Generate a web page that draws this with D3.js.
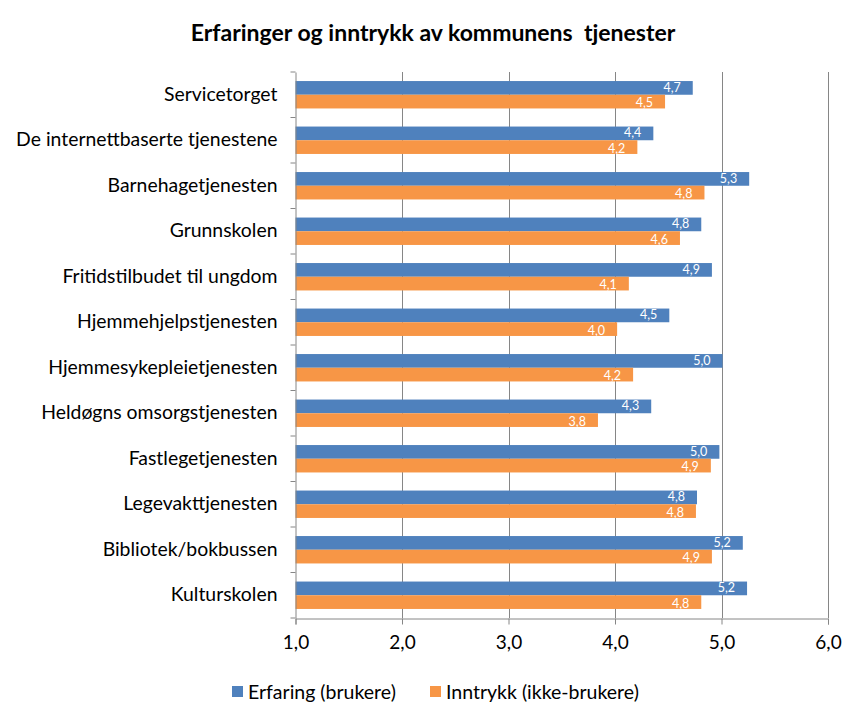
<!DOCTYPE html>
<html><head><meta charset="utf-8">
<script src="https://cdn.jsdelivr.net/npm/d3@7"></script>
<style>body{margin:0;background:#fff}svg{display:block}text{font-family:Lato,"Open Sans",sans-serif}</style>
</head><body><svg id="c" width="865" height="721"></svg>
<script>
const categories = ["Servicetorget","De internettbaserte tjenestene","Barnehagetjenesten","Grunnskolen","Fritidstilbudet til ungdom","Hjemmehjelpstjenesten","Hjemmesykepleietjenesten","Heldøgns omsorgstjenesten","Fastlegetjenesten","Legevakttjenesten","Bibliotek/bokbussen","Kulturskolen"];
const erfaring = [4.73,4.36,5.26,4.81,4.91,4.51,5.01,4.34,4.98,4.77,5.20,5.24];
const inntrykk = [4.47,4.21,4.84,4.61,4.13,4.02,4.17,3.84,4.90,4.76,4.91,4.81];
const seriesNames = ["Erfaring (brukere)","Inntrykk (ikke-brukere)"];
const xTicks = [1,2,3,4,5,6];
const colors = ["#4F81BD","#F79646"];
const title = "Erfaringer og inntrykk av kommunens  tjenester";

const svg = d3.select("#c");
const L = 295.5, R = 828, T = 72, B = 618;
const x = d3.scaleLinear().domain([1,6]).range([L,R]);
const y = d3.scaleBand().domain(categories).range([T,B]);
const inner = d3.scaleBand().domain([0,1]).range([0,y.bandwidth()]).paddingInner(0).paddingOuter(0.66);
const fmt = v => d3.format(".1f")(v).replace(".",",");

svg.append("text").attr("x",433).attr("y",41).attr("text-anchor","middle")
  .style("font-size","23px").style("font-weight","bold").style("white-space","pre")
  .attr("fill","#000").text(title);

// gridlines
svg.append("g").selectAll("line").data(xTicks.slice(1)).join("line")
  .attr("x1",d=>Math.round(x(d))+0.5).attr("x2",d=>Math.round(x(d))+0.5)
  .attr("y1",T).attr("y2",B).attr("stroke","#868686").attr("stroke-width",1);

const data = [];
categories.forEach((c,i)=>{ [erfaring[i],inntrykk[i]].forEach((v,s)=>data.push({c,v,s})); });

svg.append("g").selectAll("rect").data(data).join("rect")
  .attr("x",L).attr("y",d=>y(d.c)+inner(d.s)).attr("height",inner.bandwidth())
  .attr("width",d=>x(d.v)-L).attr("fill",d=>colors[d.s]);

svg.append("g").selectAll("text").data(data).join("text")
  .attr("x",d=>x(d.v)-12).attr("y",d=>y(d.c)+inner(d.s)+inner.bandwidth()/2+(d.s===0?-1:1))
  .attr("dy","0.38em").attr("text-anchor","end").attr("fill","#fff")
  .style("font-size","12.5px").text(d=>fmt(d.v));

// x axis
const xa = svg.append("g").attr("transform",`translate(0,${B+0.5})`)
  .call(d3.axisBottom(x).tickValues(xTicks).tickSize(6).tickFormat(fmt));
xa.select(".domain").attr("stroke","#868686");
xa.selectAll(".tick line").attr("stroke","#868686");
xa.selectAll(".tick text").attr("fill","#000").style("font-size","19px").style("font-family","Lato").attr("dy","1.15em");

// y axis
const ya = svg.append("g").attr("transform",`translate(${L},0)`)
  .call(d3.axisLeft(y).tickSize(0).tickPadding(18));
ya.select(".domain").attr("stroke","#868686");
ya.selectAll(".tick text").attr("fill","#000").style("font-size","19.4px").style("font-family","Lato");
svg.append("g").selectAll("line").data(d3.range(categories.length+1)).join("line")
  .attr("x1",L-5).attr("x2",L).attr("y1",i=>T+i*y.step()).attr("y2",i=>T+i*y.step())
  .attr("stroke","#868686");

// legend
const lg = svg.append("g");
const legX = [232,430];
seriesNames.forEach((n,i)=>{
  lg.append("rect").attr("x",legX[i]).attr("y",686).attr("width",11).attr("height",11).attr("fill",colors[i]);
  lg.append("text").attr("x",legX[i]+16).attr("y",691.5).attr("dy","0.36em").style("font-size","19.5px").attr("fill","#000").text(n);
});
</script></body></html>
